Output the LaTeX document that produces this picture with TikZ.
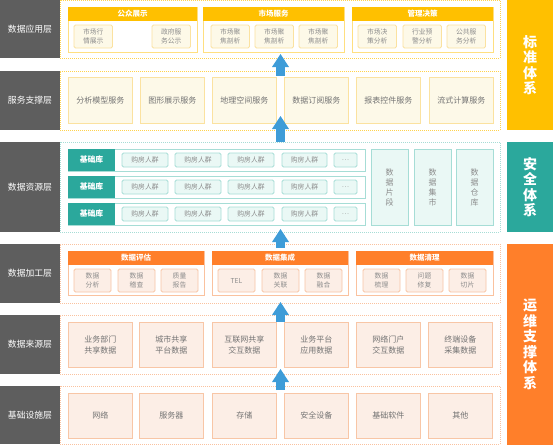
\documentclass[tikz,border=0pt]{standalone}
\usepackage{fontspec}
\newfontfamily\cjk{Noto Sans CJK SC}
\usetikzlibrary{arrows.meta}

\definecolor{layergray}{HTML}{5E5E5E}
\definecolor{ymain}{HTML}{FFC000}
\definecolor{ydot}{HTML}{FFD24D}
\definecolor{yline}{HTML}{FFDF80}
\definecolor{ysubline}{HTML}{FBE2A0}
\definecolor{yfill}{HTML}{FDF9E8}
\definecolor{tmain}{HTML}{2BA89C}
\definecolor{tline}{HTML}{A6DDD6}
\definecolor{tfill}{HTML}{EAF8F5}
\definecolor{omain}{HTML}{FF7F2A}
\definecolor{oline}{HTML}{FAC29F}
\definecolor{osubline}{HTML}{F8C6A6}
\definecolor{ofill}{HTML}{FCEEE6}
\definecolor{arrowblue}{HTML}{3E9CD8}
\definecolor{subtext}{HTML}{8C8C8C}
\definecolor{boxtext}{HTML}{737373}

\begin{document}
\begin{tikzpicture}[x=1pt,y=-1pt,
    every node/.style={inner sep=0pt, outer sep=0pt, anchor=north west},
    layer/.style={fill=layergray, minimum width=60, text=white,
        font={\cjk\fontsize{8.8}{10}\selectfont}},
    frame/.style={dash pattern=on 1pt off 1pt, line width=0.6pt, minimum width=440},
    sysbar/.style={minimum width=46, text=white, align=center,
        font={\cjk\bfseries\fontsize{14}{15.5}\selectfont}},
    group/.style={line width=0.8pt, fill=white, minimum height=44},
    grouphead/.style={minimum height=14, text=white,
        font={\cjk\bfseries\fontsize{7.5}{9}\selectfont}},
    subbox/.style={line width=0.8pt, rounded corners=1.5pt, minimum width=37,
        minimum height=23, align=center, text=subtext,
        font={\cjk\fontsize{6.8}{8.8}\selectfont}},
    bigbox/.style={line width=0.8pt, minimum width=64.5, minimum height=45,
        align=center, text=boxtext, font={\cjk\fontsize{8}{11}\selectfont}},
    flow/.style={draw=arrowblue, line width=9pt,
        -{Triangle[width=17pt,length=13pt,line width=0pt]}}]
    \useasboundingbox (0,0) rectangle (553,445);

    % layer names and dotted frames
    \foreach \y/\h/\c/\t [count=\i] in {0/58/ydot/数据应用层, 71/59/ydot/服务支撑层,
            142/90/tline/数据资源层, 244/59/oline/数据加工层,
            315/59/oline/数据来源层, 386/58/oline/基础设施层} {
        \node[layer, minimum height=\h] (layer\i) at (0,\y) {\t};
        \node[frame, draw=\c, minimum height=\h] (frame\i) at (60,\y) {};
    }

    % systems on the right
    \node[sysbar, fill=ymain, minimum height=130] (standard) at (507,0) {标\\准\\体\\系};
    \node[sysbar, fill=tmain, minimum height=90] (security) at (507,142) {安\\全\\体\\系};
    \node[sysbar, fill=omain, minimum height=201] (operation) at (507,244)
        {运\\维\\支\\撑\\体\\系};

    % application layer
    \foreach \a/\b/\t [count=\i] in {68/197/公众展示, 203/344/市场服务, 352/493/管理决策} {
        \node[group, draw=yline, minimum width={\b-\a}, minimum height=45] (app\i) at (\a,7) {};
        \node[grouphead, fill=ymain, minimum width={\b-\a}] (apphead\i) at (\a,7) {\t};
    }
    \foreach \a/\t [count=\i] in {74/{市场行\\情展示}, 152/{政府服\\务公示},
            211/{市场聚\\焦剖析}, 255/{市场聚\\焦剖析}, 299/{市场聚\\焦剖析},
            358/{市场决\\策分析}, 403/{行业预\\警分析}, 447/{公共服\\务分析}}
        \node[subbox, draw=ysubline, fill=yfill, minimum width=38.5] (appitem\i) at (\a,25) {\t};

    % service layer
    \foreach \a/\t [count=\i] in {68/分析模型服务, 140/图形展示服务, 212/地理空间服务,
            284/数据订阅服务, 356/报表控件服务, 429/流式计算服务}
        \node[bigbox, draw=ysubline, fill=yfill, minimum height=46] (svc\i) at (\a,77) {\t};

    % resource layer
    \foreach \y [count=\i] in {149,176,203} {
        \node[draw=tline, line width=0.8pt, fill=white, minimum width=297, minimum height=22]
            (lib\i) at (68,\y) {};
        \node[fill=tmain, minimum width=47, minimum height=22, text=white,
            font={\cjk\bfseries\fontsize{7.8}{9}\selectfont}] (libhead\i) at (68,\y) {基础库};
        \foreach \a/\w/\t [count=\j] in {122/46/购房人群, 175/46/购房人群, 228/46/购房人群,
                282/45/购房人群, 334/23/\ldots}
            \node[subbox, draw=tline, fill=tfill, minimum width=\w, minimum height=14]
                (lib\i-\j) at (\a,\y+4) {\t};
    }
    \foreach \a/\t [count=\i] in {371/{数\\据\\片\\段}, 414/{数\\据\\集\\市}, 456/{数\\据\\仓\\库}}
        \node[subbox, rounded corners=0pt, draw=tline, fill=tfill, minimum width=37,
            minimum height=76, font={\cjk\fontsize{8}{10}\selectfont}] (store\i) at (\a,149) {\t};

    % processing layer
    \foreach \a/\b/\t [count=\i] in {68/204/数据评估, 212/348/数据集成, 356/493/数据清理} {
        \node[group, draw=oline, minimum width={\b-\a}] (proc\i) at (\a,251) {};
        \node[grouphead, fill=omain, minimum width={\b-\a}] (prochead\i) at (\a,251) {\t};
    }
    \foreach \a/\t [count=\i] in {74/{数据\\分析}, 118/{数据\\稽查}, 161/{质量\\报告},
            218/TEL, 262/{数据\\关联}, 305/{数据\\融合},
            363/{数据\\梳理}, 406/{问题\\修复}, 449/{数据\\切片}}
        \node[subbox, draw=osubline, fill=ofill] (procitem\i) at (\a,269) {\t};

    % source layer
    \foreach \a/\t [count=\i] in {68/{业务部门\\共享数据}, 139/{城市共享\\平台数据},
            212/{互联网共享\\交互数据}, 284/{业务平台\\应用数据},
            356/{网络门户\\交互数据}, 428/{终端设备\\采集数据}}
        \node[bigbox, draw=osubline, fill=ofill] (src\i) at (\a,322) {\t};

    % infrastructure layer
    \foreach \a/\t [count=\i] in {68/网络, 139/服务器, 212/存储, 284/安全设备, 356/基础软件, 428/其他}
        \node[bigbox, draw=osubline, fill=ofill] (infra\i) at (\a,393) {\t};

    % upward arrows between layers
    \foreach \s/\e [count=\i] in {76/54, 142/116, 248/229, 322/302, 390/369} {
        \coordinate (tail\i) at (280.5,\s);
        \coordinate (tip\i) at (280.5,\e);
        \draw[flow] (tail\i) -- (tip\i);
    }
\end{tikzpicture}
\end{document}
